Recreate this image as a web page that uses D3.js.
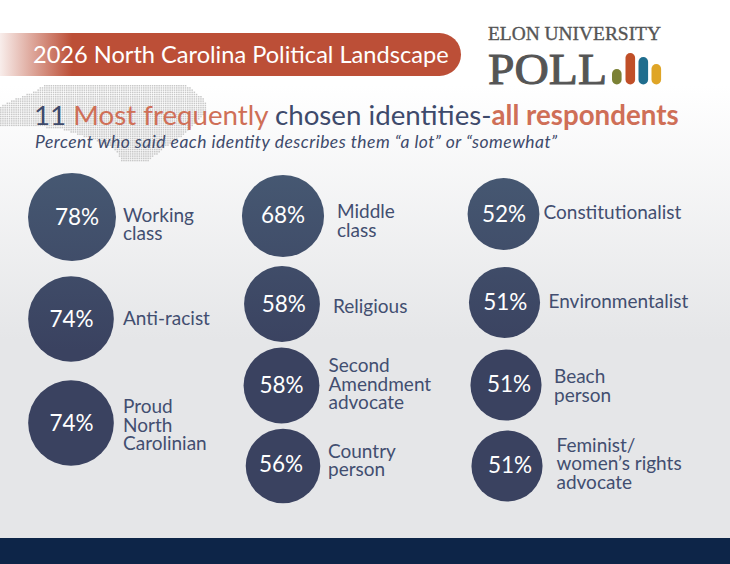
<!DOCTYPE html>
<html>
<head>
<meta charset="utf-8">
<script src="https://cdn.jsdelivr.net/npm/d3@7"></script>
<style>
  html, body { margin: 0; padding: 0; background: #fff; }
  svg { display: block; }
  text { font-family: Lato, "Open Sans", sans-serif; }
</style>
</head>
<body>
<svg id="chart" width="730" height="564"></svg>
<script>
const identities = [
  ['Working', 'class'],
  ['Anti-racist'],
  ['Proud', 'North', 'Carolinian'],
  ['Middle', 'class'],
  ['Religious'],
  ['Second', 'Amendment', 'advocate'],
  ['Country', 'person'],
  ['Constitutionalist'],
  ['Environmentalist'],
  ['Beach', 'person'],
  ['Feminist/', 'women\u2019s rights', 'advocate']
];
const percents = [78, 74, 74, 68, 58, 58, 56, 52, 51, 51, 51];
const columnSizes = [3, 4, 4];

const bannerTitle = '2026 North Carolina Political Landscape';
const headingParts = [
  { text: '11 ', color: '#3e4a6b', weight: 400 },
  { text: 'Most frequently ', color: '#cf6f57', weight: 400 },
  { text: 'chosen identities-', color: '#3e4a6b', weight: 400 },
  { text: 'all respondents', color: '#cf6f57', weight: 700 }
];
const subheading = 'Percent who said each identity describes them \u201ca lot\u201d or \u201csomewhat\u201d';

const svg = d3.select('#chart');
const defs = svg.append('defs');

// page fade, white at the top to pale grey
const pageFade = defs.append('linearGradient').attr('id', 'pageFade')
  .attr('gradientUnits', 'userSpaceOnUse')
  .attr('x1', 0).attr('x2', 0).attr('y1', 85).attr('y2', 340);
pageFade.append('stop').attr('offset', 0).attr('stop-color', '#ffffff');
pageFade.append('stop').attr('offset', 1).attr('stop-color', '#e5e6e8');

const bannerFade = defs.append('linearGradient').attr('id', 'bannerFade')
  .attr('gradientUnits', 'userSpaceOnUse')
  .attr('x1', 0).attr('x2', 72).attr('y1', 0).attr('y2', 0);
bannerFade.append('stop').attr('offset', 0).attr('stop-color', '#bc4f37').attr('stop-opacity', 0.1);
bannerFade.append('stop').attr('offset', 1).attr('stop-color', '#bc4f37');

// the circles share one vertical fade across the whole page
const circleFade = defs.append('linearGradient').attr('id', 'circleFade')
  .attr('gradientUnits', 'userSpaceOnUse')
  .attr('x1', 0).attr('x2', 0).attr('y1', 172).attr('y2', 350);
circleFade.append('stop').attr('offset', 0).attr('stop-color', '#465872');
circleFade.append('stop').attr('offset', 1).attr('stop-color', '#3a4260');

svg.append('rect').attr('width', 730).attr('height', 564).attr('fill', 'url(#pageFade)');
svg.append('rect').attr('y', 538).attr('width', 730).attr('height', 26).attr('fill', '#0d2548');

// dotted state outline behind the heading
const stateOutline = [
  [43, 85], [187, 85], [203, 98], [207, 108], [200, 118], [187, 131], [167, 145], [147, 161],
  [122, 162], [113, 147], [90, 138], [57, 127], [0, 126], [0, 106], [10, 100], [33, 91]
];
const dotPitch = 2.2;
const mapDots = d3.cross(d3.range(0, 208, dotPitch), d3.range(85, 163, dotPitch))
  .filter(p => d3.polygonContains(stateOutline, p));
svg.append('g').selectAll('rect').data(mapDots).join('rect')
  .attr('x', d => d[0]).attr('y', d => d[1])
  .attr('width', 1.5).attr('height', 1.5)
  .attr('fill', '#c8c8c8');

// banner
svg.append('path')
  .attr('d', 'M0,33H439.5A21.5,21.5 0 0 1 439.5,76H0Z')
  .attr('fill', 'url(#bannerFade)');
svg.append('text')
  .attr('x', 33).attr('y', 63)
  .attr('font-size', 23.6).attr('fill', '#fff')
  .text(bannerTitle);

// logo
const logo = svg.append('g').attr('fill', '#555');
logo.append('text').attr('x', 488).attr('y', 40)
  .style('font-family', '"Liberation Serif", serif')
  .attr('font-size', 19).attr('textLength', 173).attr('lengthAdjust', 'spacingAndGlyphs')
  .attr('stroke', '#555').attr('stroke-width', 0.35)
  .text('ELON UNIVERSITY');
logo.append('text').attr('x', 488).attr('y', 84)
  .style('font-family', '"Liberation Serif", serif')
  .attr('font-size', 45).attr('textLength', 119).attr('lengthAdjust', 'spacingAndGlyphs')
  .attr('stroke', '#555').attr('stroke-width', 1)
  .text('POLL');
const logoBars = [
  { x: 612, top: 69, color: '#7b8135' },
  { x: 625.5, top: 53, color: '#c04f28' },
  { x: 638.5, top: 57, color: '#1f6d8e' },
  { x: 651.5, top: 64, color: '#dfa526' }
];
svg.append('g').selectAll('rect').data(logoBars).join('rect')
  .attr('x', d => d.x).attr('y', d => d.top)
  .attr('width', 9.6).attr('height', d => 84.5 - d.top)
  .attr('rx', 4.8)
  .attr('fill', d => d.color);

// heading
svg.append('text')
  .attr('x', 34).attr('y', 125)
  .attr('font-size', 27.7)
  .selectAll('tspan').data(headingParts).join('tspan')
  .attr('fill', d => d.color)
  .attr('font-weight', d => d.weight)
  .text(d => d.text);
svg.append('text')
  .attr('x', 35).attr('y', 148)
  .attr('font-size', 17.5).attr('font-style', 'italic').attr('fill', '#3e4a6b')
  .attr('textLength', 522).attr('lengthAdjust', 'spacing')
  .text(subheading);

// area-proportional circles
const radius = d3.scaleSqrt().domain([0, 100]).range([0, 49.8]);
const columnX = d3.scalePoint().domain([0, 1, 2]).range([72, 505]);
const rowY = [
  d3.scalePoint().domain(d3.range(3)).range([217, 423]),
  d3.scalePoint().domain(d3.range(4)).range([215, 466]),
  d3.scalePoint().domain(d3.range(4)).range([215, 466])
];
// the original is hand placed, so each bubble gets a nudge off its grid slot
const nudgeX = [0, -1, -1, -5.5, -6.5, -7, -5.5, -1.5, -0.5, 1, 2];
const nudgeY = [0, -1, 0, 1, 5.3, 3.2, 0, -1, 3.8, 2.7, 0];
const percentDx = [5, 0.5, 0.5, 0, 1.7, 0, -2, 0.5, 0.8, 3, 3];
const percentDy = [8, 8, 8, 7, 8, 7.5, 6, 8, 7.5, 7, 7];
const labelDx = [51, 52, 52, 54, 51, 47, 45, 40, 44, 48, 49.5];
const labelDy = [4.7, 5.7, -10, 2, 9, -13.5, -8.3, 5, 5.5, -2, -14.3];

const slots = columnSizes.flatMap((n, col) => d3.range(n).map(row => ({ col, row })));
const cx = i => columnX(slots[i].col) + nudgeX[i];
const cy = i => rowY[slots[i].col](slots[i].row) + nudgeY[i];

const bubbles = svg.append('g').selectAll('g')
  .data(percents)
  .join('g');

bubbles.append('circle')
  .attr('cx', (d, i) => cx(i))
  .attr('cy', (d, i) => cy(i))
  .attr('r', d => radius(d))
  .attr('fill', 'url(#circleFade)');

bubbles.append('text')
  .attr('x', (d, i) => cx(i) + percentDx[i])
  .attr('y', (d, i) => cy(i) + percentDy[i])
  .attr('text-anchor', 'middle')
  .attr('font-size', 22.5)
  .attr('fill', '#fff')
  .text(d => `${d}%`);

bubbles.append('text')
  .attr('font-size', 19)
  .attr('fill', '#424e70')
  .selectAll('tspan')
  .data((d, i) => identities[i].map(line => ({ line, i })))
  .join('tspan')
  .attr('x', d => cx(d.i) + labelDx[d.i])
  .attr('y', (d, k) => cy(d.i) + labelDy[d.i] + k * 18.5)
  .text(d => d.line);
</script>
</body>
</html>
